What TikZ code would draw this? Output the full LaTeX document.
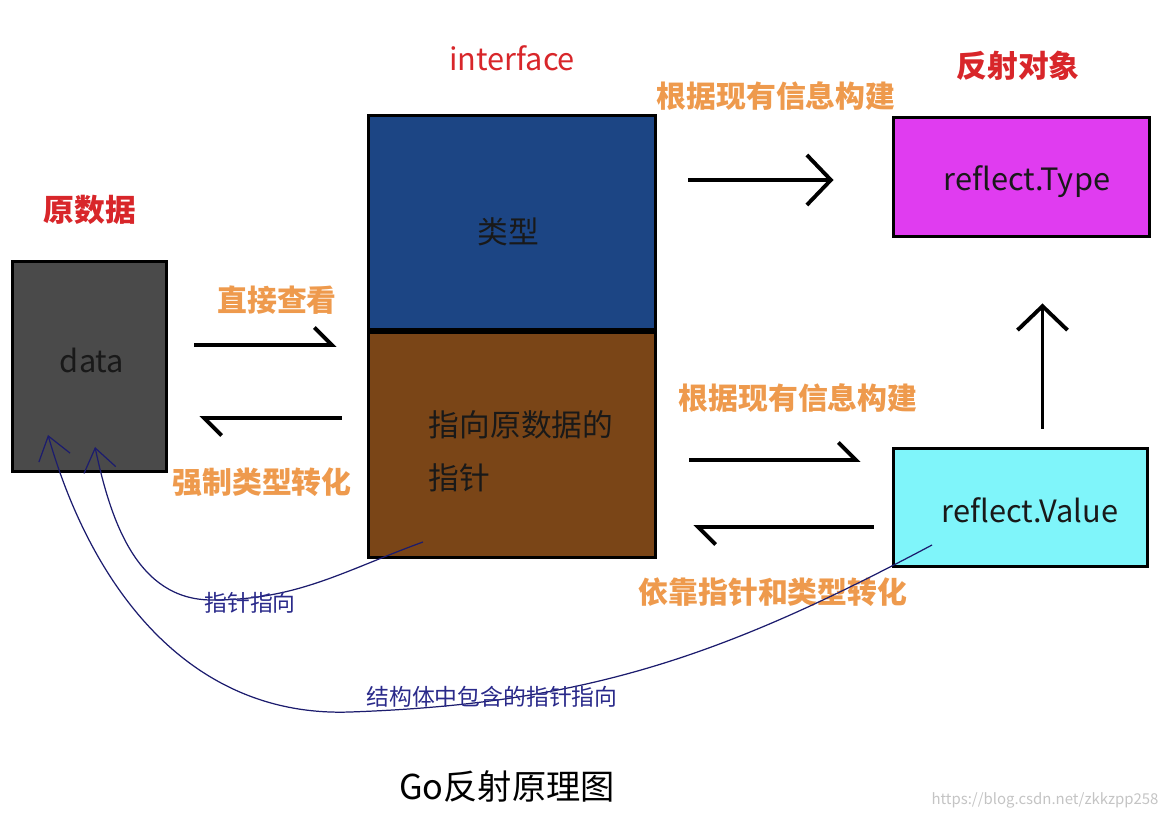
\documentclass[tikz,border=0pt]{standalone}
\usepackage{fontspec}
\setmainfont{Noto Sans CJK SC}
\usetikzlibrary{arrows.meta,positioning,calc}
\definecolor{datagray}{HTML}{4A4A4A}
\definecolor{typeblue}{HTML}{1C4584}
\definecolor{ptrbrown}{HTML}{7A4517}
\definecolor{rtypepink}{HTML}{E03CF0}
\definecolor{rvaluecyan}{HTML}{7FF5FA}
\definecolor{labelred}{HTML}{D8262A}
\definecolor{labelorange}{HTML}{EE9A4D}
\definecolor{labelblue}{HTML}{2A2A8A}
\definecolor{curveblue}{HTML}{1C1C6E}
\definecolor{markgray}{HTML}{C4C4C4}

\begin{document}
\begin{tikzpicture}[
  x=0.02cm, y=0.02cm,
  font=\fontsize{17.5}{20}\selectfont,
  box/.style={draw=black,line width=1.7pt,inner sep=0pt,text=black!90,align=center},
  intext/.style={text=black!90,font=\fontsize{17.5}{30}\selectfont,align=left},
  redlab/.style={text=labelred,font=\fontsize{17.5}{20}\selectfont\bfseries},
  orlab/.style={text=labelorange,font=\fontsize{17}{20}\selectfont\bfseries},
  bluelab/.style={text=labelblue,font=\fontsize{13}{15}\selectfont},
  arr/.style={line width=2.2pt,-{Straight Barb[length=4.8mm,width=10mm]}},
  harp/.style={line width=2.2pt,-{Straight Barb[harpoon,length=3.5mm,width=7mm]}},
  ptr/.style={draw=curveblue,line width=0.7pt,-{Straight Barb[length=4.5mm,width=6.5mm]}}
]
\useasboundingbox (0,0) rectangle (1166,-820);

% boxes
\node[box,fill=datagray,minimum width=3.1cm,minimum height=4.22cm] (data) at (89.5,-366.5) {};
\node[box,fill=typeblue,minimum width=5.76cm,minimum height=4.3cm] (typebox) at (512,-222.5) {};
\node[box,fill=ptrbrown,minimum width=5.76cm,minimum height=4.5cm,below=0pt of typebox] (ptrbox) {};
\node[box,fill=rtypepink,minimum width=5.14cm,minimum height=2.4cm] (rtype) at (1021.5,-177) {};
\node[box,fill=rvaluecyan,minimum width=5.1cm,minimum height=2.38cm] (rvalue) at (1020.5,-507.5) {};

% box texts
\node[intext] (datatext) at (92,-360) {data};
\node[intext] (typetext) at (508,-232) {类型};
\node[intext] (ptrtext) at (521,-451) {指向原数据的\\指针};
\node[intext] (rtypetext) at (1027,-182) {reflect.Type};
\node[intext] (rvaluetext) at (1030,-510) {reflect.Value};

% titles
\node[redlab] (srclab) at (90,-210) {原数据};
\node[redlab,font=\fontsize{17.5}{20}\selectfont] (iflab) at (512,-58) {interface};
\node[redlab] (reflab) at (1018,-66) {反射对象};

% black arrows
\draw[harp,shorten <=0.52cm,shorten >=0.6cm] ([yshift=0.43cm]data.east) -- ([yshift=0.43cm]data.east -| ptrbox.west);
\draw[harp,shorten <=0.5cm,shorten >=0.62cm] ([yshift=-1.03cm]data.east -| ptrbox.west) -- ([yshift=-1.03cm]data.east);
\draw[arr,shorten <=0.62cm,shorten >=1.16cm] ([yshift=-0.06cm]rtype.west -| typebox.east) -- ([yshift=-0.06cm]rtype.west);
\draw[harp,shorten <=0.64cm,shorten >=0.62cm] ([yshift=0.95cm]rvalue.west -| ptrbox.east) -- ([yshift=0.95cm]rvalue.west);
\draw[harp,shorten <=0.36cm,shorten >=0.72cm] ([yshift=-0.39cm]rvalue.west) -- ([yshift=-0.39cm]rvalue.west -| ptrbox.east);
\draw[arr,shorten <=0.36cm,shorten >=1.3cm] ([xshift=0.44cm]rvalue.north) -- ([xshift=0.44cm]rvalue.north |- rtype.south);

% orange labels
\node[orlab] (looklab) at (277,-300) {直接查看};
\node[orlab] (castlab) at (262,-482) {强制类型转化};
\node[orlab] (buildlab1) at (776,-96) {根据现有信息构建};
\node[orlab] (buildlab2) at (798,-398) {根据现有信息构建};
\node[orlab] (backlab) at (773,-592) {依靠指针和类型转化};

% pointer curves
\coordinate (ptrstart) at (423,-542);
\coordinate (ptrlow) at (212,-600);
\coordinate (ptrtip) at (95,-447);
\draw[ptr] (ptrstart) to[out=200,in=0] (ptrlow) to[out=180,in=-78] (ptrtip);
\coordinate (valstart) at (932,-545);
\coordinate (vallow) at (350,-712);
\coordinate (valtip) at (48,-435);
\draw[ptr] (valstart) to[out=208,in=2] (vallow) to[out=182,in=-74] (valtip);
\node[bluelab] (ptrlab) at (250,-603) {指针指向};
\node[bluelab] (structlab) at (492,-697) {结构体中包含的指针指向};

% caption
\node[font=\fontsize{19.5}{22}\selectfont] (title) at (507,-787) {Go反射原理图};
\node[text=markgray,font=\fontsize{8.5}{10}\selectfont] (mark) at (1045,-800) {https://blog.csdn.net/zkkzpp258};
\end{tikzpicture}
\end{document}
